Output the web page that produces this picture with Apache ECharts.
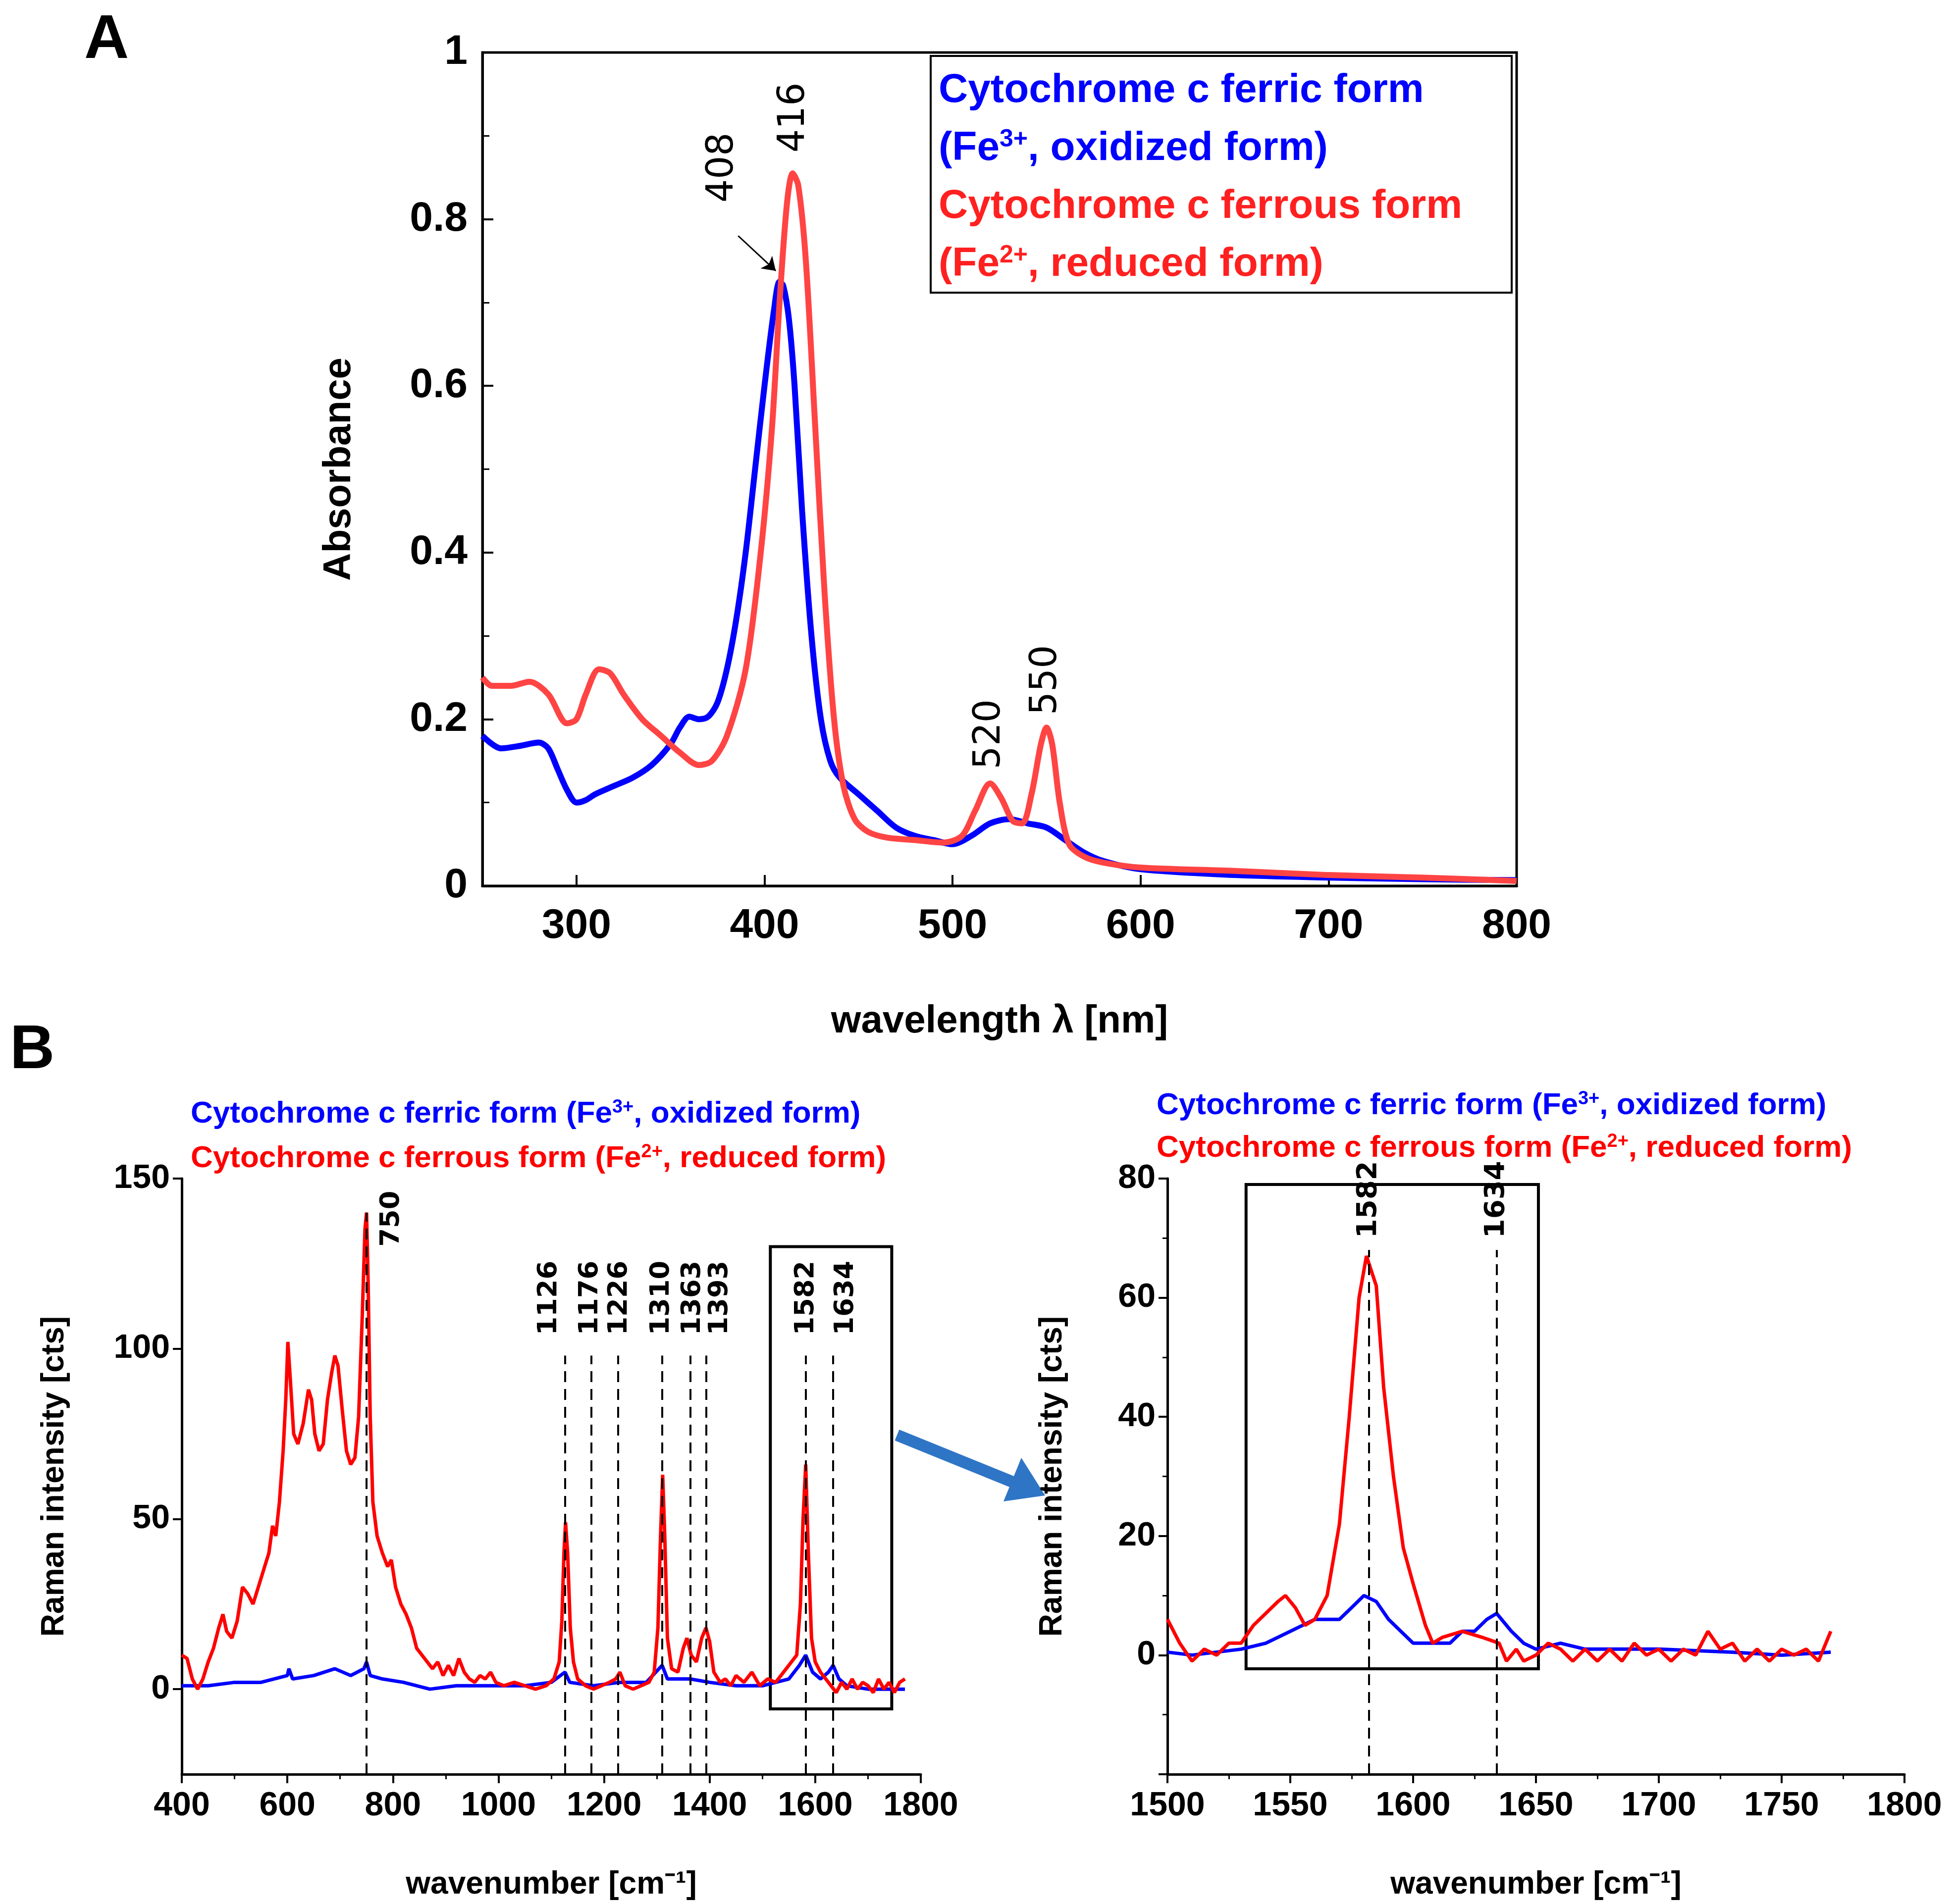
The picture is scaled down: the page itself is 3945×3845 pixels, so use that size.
<!DOCTYPE html>
<html>
<head>
<meta charset="utf-8">
<script src="https://cdn.jsdelivr.net/npm/echarts@6/dist/echarts.min.js"></script>
<style>html,body{margin:0;padding:0;background:#fff}#chart{width:3945px;height:3845px}</style>
</head>
<body>
<div id="chart"></div>
<script>
// UV-vis absorbance, [wavelength nm, absorbance]
const uvFerric = [[250,0.18],[260,0.165],[270,0.168],[280,0.172],[285,0.165],[290,0.14],[295,0.115],[300,0.1],[305,0.103],[310,0.11],[320,0.12],[330,0.13],[340,0.145],[350,0.17],[355,0.19],[360,0.203],[365,0.2],[370,0.203],[375,0.22],[380,0.26],[385,0.32],[390,0.4],[395,0.5],[400,0.6],[405,0.69],[408,0.725],[410,0.72],[413,0.68],[416,0.6],[420,0.45],[425,0.3],[430,0.2],[435,0.15],[440,0.13],[450,0.11],[460,0.09],[470,0.07],[480,0.06],[490,0.055],[500,0.05],[510,0.06],[520,0.075],[530,0.08],[540,0.075],[550,0.07],[560,0.055],[570,0.04],[580,0.03],[600,0.02],[650,0.013],[700,0.01],[750,0.008],[800,0.007]];
const uvFerrous = [[250,0.25],[255,0.24],[265,0.24],[275,0.245],[285,0.23],[295,0.195],[300,0.2],[305,0.23],[312,0.26],[318,0.255],[325,0.23],[335,0.2],[345,0.18],[355,0.16],[365,0.145],[372,0.15],[380,0.18],[390,0.26],[398,0.4],[404,0.55],[408,0.7],[412,0.82],[415,0.855],[418,0.84],[422,0.75],[427,0.55],[432,0.35],[437,0.2],[442,0.12],[448,0.08],[455,0.065],[465,0.058],[480,0.055],[495,0.052],[505,0.06],[512,0.09],[520,0.123],[526,0.105],[532,0.078],[537,0.075],[542,0.11],[547,0.17],[550,0.19],[553,0.17],[557,0.1],[562,0.05],[570,0.035],[580,0.028],[600,0.022],[650,0.018],[700,0.013],[750,0.01],[800,0.006]];
// peak labels: [label, x, y]
const uvPeakLabels = [['416',416,0.88],['520',520,0.14],['550',550,0.205],['408',378,0.82]];

// Raman, full range, [wavenumber, counts]
const ramanFerrous = [[400,10],[410,9],[420,3],[430,0],[440,3],[450,8],[460,12],[470,18],[478,22],[485,17],[495,15],[505,20],[515,30],[525,28],[535,25],[545,30],[555,35],[565,40],[572,48],[578,45],[585,55],[592,70],[597,85],[601,102],[606,90],[612,75],[620,72],[630,78],[640,88],[646,85],[652,75],[660,70],[668,72],[676,85],[684,93],[690,98],[696,95],[704,82],[712,70],[720,66],[728,68],[735,80],[742,110],[747,135],[750,140],[753,120],[757,80],[762,55],[770,45],[780,40],[790,36],[797,38],[805,30],[815,25],[825,22],[835,18],[845,12],[855,10],[865,8],[875,6],[885,8],[895,4],[905,7],[915,4],[925,9],[935,5],[945,3],[955,2],[965,4],[975,3],[985,5],[995,2],[1010,1],[1030,2],[1050,1],[1070,0],[1090,1],[1105,3],[1115,8],[1120,20],[1124,40],[1127,49],[1131,40],[1136,18],[1142,8],[1150,3],[1165,1],[1180,0],[1195,1],[1210,2],[1222,3],[1230,5],[1240,1],[1255,0],[1270,1],[1285,2],[1295,5],[1302,18],[1307,45],[1311,63],[1315,45],[1320,15],[1328,6],[1340,5],[1350,12],[1357,15],[1365,10],[1375,8],[1385,15],[1393,18],[1400,14],[1408,5],[1420,2],[1430,3],[1440,1],[1450,4],[1465,2],[1480,5],[1495,1],[1510,3],[1525,2],[1540,5],[1555,8],[1565,10],[1572,25],[1577,50],[1582,66],[1587,40],[1593,15],[1600,8],[1610,5],[1620,3],[1630,1],[1640,-1],[1650,2],[1660,0],[1670,3],[1680,0],[1690,2],[1700,1],[1710,-1],[1720,3],[1730,0],[1740,2],[1750,-1],[1760,2],[1770,3]];
const ramanFerric = [[400,1],[450,1],[500,2],[550,2],[600,4],[603,6],[610,3],[650,4],[690,6],[720,4],[745,6],[750,8],[757,4],[780,3],[820,2],[870,0],[920,1],[980,1],[1050,1],[1100,2],[1126,5],[1135,2],[1180,1],[1230,2],[1280,2],[1310,7],[1320,3],[1363,3],[1400,2],[1450,1],[1500,1],[1550,3],[1570,7],[1582,10],[1595,5],[1610,3],[1625,5],[1634,7],[1645,3],[1660,1],[1700,0],[1770,0]];
const ramanLines = [1126,1176,1226,1310,1363,1393,1582,1634];
const ramanLabelX = [1096,1174,1229,1309,1368,1420,1583,1658];

// Raman zoom 1500-1800
const zoomFerrous = [[1500,6],[1505,2],[1510,-1],[1515,1],[1520,0],[1525,2],[1530,2],[1535,5],[1540,7],[1545,9],[1548,10],[1552,8],[1556,5],[1560,6],[1565,10],[1570,22],[1574,40],[1578,60],[1581,67],[1585,62],[1588,45],[1592,30],[1596,18],[1600,12],[1605,5],[1608,2],[1612,3],[1620,4],[1628,3],[1635,2],[1638,-1],[1642,1],[1645,-1],[1650,0],[1655,2],[1660,1],[1665,-1],[1670,1],[1675,-1],[1680,1],[1685,-1],[1690,2],[1695,0],[1700,1],[1705,-1],[1710,1],[1715,0],[1720,4],[1725,1],[1730,2],[1735,-1],[1740,1],[1745,-1],[1750,1],[1755,0],[1760,1],[1765,-1],[1770,4]];
const zoomFerric = [[1500,0.5],[1510,0],[1520,0.5],[1530,1],[1540,2],[1550,4],[1560,6],[1570,6],[1575,8],[1580,10],[1585,9],[1590,6],[1595,4],[1600,2],[1610,2],[1615,2],[1620,4],[1625,4],[1630,6],[1634,7],[1640,4],[1645,2],[1650,1],[1660,2],[1670,1],[1700,1],[1730,0.5],[1750,0],[1770,0.5]];
const zoomLines = [1582,1634];

const BLUE = '#0000ff', RED = '#ff0000', LRED = '#ff4444';
const tickFont = {fontFamily:'Liberation Sans', fontWeight:'bold', fontSize:84, color:'#000', formatter:v => String(v)};
const nameFont = {fontFamily:'Liberation Sans', fontWeight:'bold', fontSize:78, color:'#000'};
const axLine = {onZero:false, lineStyle:{color:'#000', width:5}};

function vlabels(list, fs, weight){
  return {symbol:'rect', symbolSize:1, itemStyle:{color:'transparent'},
    label:{show:true, position:'inside', rotate:90, align:'left', verticalAlign:'middle',
      fontFamily:'DejaVu Sans', fontSize:fs, fontWeight:weight, color:'#000',
      formatter:p => p.name},
    data: list.map(p => ({name:p[0], coord:[p[1], p[2]]}))};
}

const chart = echarts.init(document.getElementById('chart'));
chart.setOption({
  animation:false,
  backgroundColor:'#fff',
  grid:[
    {left:974, top:106, width:2088, height:1683, show:true, borderColor:'#000', borderWidth:5},
    {left:367, top:2380, width:1492, height:1203},
    {left:2357, top:2380, width:1488, height:1203}
  ],
  xAxis:[
    {gridIndex:0, type:'value', min:250, max:800, interval:100, axisLine:axLine,
      minorTick:{show:true, splitNumber:2, length:14, lineStyle:{width:3}},
      splitLine:{show:false}, axisLabel:Object.assign({}, tickFont, {margin:40, customValues:[300,400,500,600,700,800]}),
      axisTick:{inside:true, length:22, lineStyle:{width:4}, customValues:[300,400,500,600,700,800]},
      name:'wavelength λ [nm]', nameLocation:'middle', nameGap:235, nameTextStyle:nameFont},
    {gridIndex:1, type:'value', min:400, max:1800, interval:200, axisLine:axLine,
      axisTick:{length:18, lineStyle:{width:4}}, minorTick:{show:true, splitNumber:2, length:10, lineStyle:{width:3}},
      splitLine:{show:false}, axisLabel:Object.assign({}, tickFont, {fontSize:68, margin:30}),
      name:'wavenumber [cm⁻¹]', nameLocation:'middle', nameGap:191, nameTextStyle:Object.assign({}, nameFont, {fontSize:64})},
    {gridIndex:2, type:'value', min:1500, max:1800, interval:50, axisLine:axLine,
      axisTick:{length:18, lineStyle:{width:4}}, minorTick:{show:true, splitNumber:2, length:10, lineStyle:{width:3}},
      splitLine:{show:false}, axisLabel:Object.assign({}, tickFont, {fontSize:68, margin:30}),
      name:'wavenumber [cm⁻¹]', nameLocation:'middle', nameGap:191, nameTextStyle:Object.assign({}, nameFont, {fontSize:64})}
  ],
  yAxis:[
    {gridIndex:0, type:'value', min:0, max:1, interval:0.2, axisLine:axLine,
      axisTick:{inside:true, length:22, lineStyle:{width:4}}, minorTick:{show:true, splitNumber:2, length:14, lineStyle:{width:3}},
      splitLine:{show:false}, axisLabel:Object.assign({}, tickFont, {margin:30}),
      name:'Absorbance', nameLocation:'middle', nameGap:250, nameTextStyle:nameFont},
    {gridIndex:1, type:'value', min:-25, max:150, interval:25, axisLine:axLine,
      axisTick:{length:18, lineStyle:{width:4}, customValues:[0,50,100,150]},
      minorTick:{show:false}, splitLine:{show:false},
      axisLabel:Object.assign({}, tickFont, {fontSize:68, margin:24, customValues:[0,50,100,150]}),
      name:'Raman intensity [cts]', nameLocation:'middle', nameGap:225, nameTextStyle:Object.assign({}, nameFont, {fontSize:64})},
    {gridIndex:2, type:'value', min:-20, max:80, interval:20, axisLine:axLine,
      axisTick:{length:18, lineStyle:{width:4}}, minorTick:{show:true, splitNumber:2, length:10, lineStyle:{width:3}},
      splitLine:{show:false}, axisLabel:Object.assign({}, tickFont, {fontSize:68, margin:24, customValues:[0,20,40,60,80]}),
      name:'Raman intensity [cts]', nameLocation:'middle', nameGap:200, nameTextStyle:Object.assign({}, nameFont, {fontSize:64})}
  ],
  series:[
    {type:'line', xAxisIndex:0, yAxisIndex:0, data:uvFerric, smooth:0.3, showSymbol:false, lineStyle:{color:BLUE, width:12}},
    {type:'line', xAxisIndex:0, yAxisIndex:0, data:uvFerrous, smooth:0.3, showSymbol:false, lineStyle:{color:LRED, width:12},
      markPoint:vlabels(uvPeakLabels, 74, 'normal'),
      markLine:{silent:true, symbol:['none','arrow'], symbolSize:26, label:{show:false},
        lineStyle:{color:'#000', width:3, type:'solid'},
        data:[[{coord:[386,0.78]},{coord:[406,0.738]}]]}},
    {type:'line', xAxisIndex:1, yAxisIndex:1, data:ramanFerric, showSymbol:false, lineStyle:{color:BLUE, width:7}},
    {type:'line', xAxisIndex:1, yAxisIndex:1, data:ramanFerrous, showSymbol:false, lineStyle:{color:RED, width:7},
      markLine:{silent:true, symbol:'none', label:{show:false}, lineStyle:{color:'#000', width:4, type:[22,14]},
        data:[[{coord:[750,-25]},{coord:[750,140]}]].concat(ramanLines.map(x => [{coord:[x,-25]},{coord:[x,98]}]))},
      markPoint:vlabels([['750',798,130]].concat(ramanLines.map((x, i) => [String(x), ramanLabelX[i], 104])), 54, 'bold'),
      markArea:{silent:true, itemStyle:{color:'transparent', borderColor:'#000', borderWidth:6},
        data:[[{coord:[1515,-5.8]},{coord:[1745,130]}]]}},
    {type:'line', xAxisIndex:2, yAxisIndex:2, data:zoomFerric, showSymbol:false, lineStyle:{color:BLUE, width:7}},
    {type:'line', xAxisIndex:2, yAxisIndex:2, data:zoomFerrous, showSymbol:false, lineStyle:{color:RED, width:7},
      markLine:{silent:true, symbol:'none', label:{show:false}, lineStyle:{color:'#000', width:4, type:[22,14]},
        data:zoomLines.map(x => [{coord:[x,-20]},{coord:[x,68]}])},
      markPoint:vlabels(zoomLines.map(x => [String(x), x, 70]), 56, 'bold'),
      markArea:{silent:true, itemStyle:{color:'transparent', borderColor:'#000', borderWidth:6},
        data:[[{coord:[1532,-2.3]},{coord:[1651,79]}]]}}
  ],
  graphic:[
    {type:'text', left:170, top:20, style:{text:'A', font:'bold 125px "Liberation Sans"', fill:'#000'}},
    {type:'text', left:20, top:2060, style:{text:'B', font:'bold 125px "Liberation Sans"', fill:'#000'}},
    {type:'rect', shape:{x:1879, y:113, width:1173, height:478}, style:{fill:'#fff', stroke:'#000', lineWidth:4}},
    {type:'text', x:1895, y:125, style:{
      text:'{b|Cytochrome c ferric form}\n{b|(Fe}{bs|3+}{b|, oxidized form)}\n{r|Cytochrome c ferrous form}\n{r|(Fe}{rs|2+}{r|, reduced form)}',
      rich:{
        b:{fill:BLUE, font:'bold 82px "Liberation Sans"', lineHeight:117},
        bs:{fill:BLUE, font:'bold 50px "Liberation Sans"', padding:[0,0,36,0], lineHeight:117},
        r:{fill:'#ff2020', font:'bold 82px "Liberation Sans"', lineHeight:117},
        rs:{fill:'#ff2020', font:'bold 50px "Liberation Sans"', padding:[0,0,36,0], lineHeight:117}
      }}},
    {type:'text', x:385, y:2205, style:{
      text:'{b|Cytochrome c ferric form (Fe}{bs|3+}{b|, oxidized form)}\n{r|Cytochrome c ferrous form (Fe}{rs|2+}{r|, reduced form)}',
      rich:{
        b:{fill:BLUE, font:'bold 62px "Liberation Sans"', lineHeight:90},
        bs:{fill:BLUE, font:'bold 38px "Liberation Sans"', padding:[0,0,26,0], lineHeight:90},
        r:{fill:RED, font:'bold 62px "Liberation Sans"', lineHeight:90},
        rs:{fill:RED, font:'bold 38px "Liberation Sans"', padding:[0,0,26,0], lineHeight:90}
      }}},
    {type:'text', x:2335, y:2190, style:{
      text:'{b|Cytochrome c ferric form (Fe}{bs|3+}{b|, oxidized form)}\n{r|Cytochrome c ferrous form (Fe}{rs|2+}{r|, reduced form)}',
      rich:{
        b:{fill:BLUE, font:'bold 62px "Liberation Sans"', lineHeight:86},
        bs:{fill:BLUE, font:'bold 38px "Liberation Sans"', padding:[0,0,26,0], lineHeight:86},
        r:{fill:RED, font:'bold 62px "Liberation Sans"', lineHeight:86},
        rs:{fill:RED, font:'bold 38px "Liberation Sans"', padding:[0,0,26,0], lineHeight:86}
      }}},
    {type:'line', shape:{x1:1811, y1:2898, x2:2050, y2:2995}, style:{stroke:'#2e75c6', lineWidth:24}},
    {type:'polygon', shape:{points:[[2110,3020],[2026,3032],[2062,2944]]}, style:{fill:'#2e75c6'}}
  ]
});
</script>
</body>
</html>
